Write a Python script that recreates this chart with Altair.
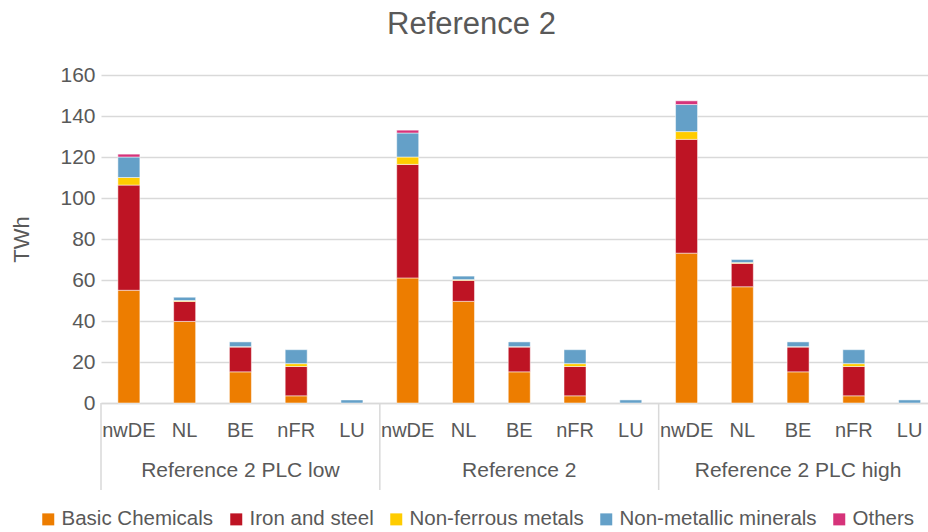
import altair as alt
import pandas as pd

# Scenario groups, regions and sectors
groups = ["Reference 2 PLC low", "Reference 2", "Reference 2 PLC high"]
countries = ["nwDE", "NL", "BE", "nFR", "LU"]
sectors = ["Basic Chemicals", "Iron and steel", "Non-ferrous metals",
           "Non-metallic minerals", "Others"]
sector_colors = ["#ED7D00", "#BE1424", "#FFCC00", "#64A0C8", "#D6337A"]

# TWh per sector, ordered group by group, region by region
basic_chemicals = [55.0, 39.8, 15.2, 3.5, 0.0,
                   61.0, 49.6, 15.2, 3.5, 0.0,
                   73.1, 56.7, 15.2, 3.5, 0.0]
iron_and_steel = [51.3, 9.7, 12.1, 14.3, 0.0,
                  55.4, 10.2, 12.1, 14.3, 0.0,
                  55.5, 11.4, 12.1, 14.3, 0.0]
non_ferrous = [3.7, 0.5, 0.2, 1.4, 0.0,
               3.6, 0.4, 0.2, 1.4, 0.0,
               3.8, 0.4, 0.2, 1.4, 0.0]
non_metallic = [10.0, 1.6, 2.3, 6.8, 1.5,
                11.7, 1.7, 2.3, 6.8, 1.5,
                13.2, 1.5, 2.3, 6.8, 1.5]
others = [1.4, 0.0, 0.0, 0.0, 0.0,
          1.4, 0.0, 0.0, 0.0, 0.0,
          1.8, 0.0, 0.0, 0.0, 0.0]
series = [basic_chemicals, iron_and_steel, non_ferrous, non_metallic, others]

y_ticks = [0, 20, 40, 60, 80, 100, 120, 140, 160]

TEXT = "#595959"
GRID = "#d9d9d9"
FONT = "Liberation Sans"

keys = [f"{g}|{c}" for g in groups for c in countries]

rows = []
for k, key in enumerate(keys):
    g, c = key.split("|")
    for si, (s, vals) in enumerate(zip(sectors, series)):
        if vals[k] > 0:
            rows.append({"key": key, "group": g, "country": c,
                         "sector": s, "order": si, "value": vals[k]})
df = pd.DataFrame(rows)

x_scale = alt.Scale(domain=keys, range=[0, 836.5], paddingInner=0, paddingOuter=0)
x_axis = alt.Axis(title=None, labelExpr="split(datum.value, '|')[1]",
                  labelAngle=0, ticks=False, domainColor=GRID, domainWidth=1.5,
                  labelFont=FONT, labelFontSize=20, labelColor=TEXT,
                  labelPadding=17, labelOverlap=False, labelBound=False)

bars = alt.Chart(df).mark_bar(width=22, stroke="white", strokeWidth=0.5).encode(
    x=alt.X("key:N", sort=keys, scale=x_scale, axis=x_axis),
    y=alt.Y("value:Q", stack="zero", scale=alt.Scale(domain=[0, 160], nice=False),
            axis=alt.Axis(values=y_ticks, title="TWh", titleFont=FONT,
                          titleFontSize=22, titleFontWeight="normal", titleColor=TEXT,
                          titleAngle=270, titleX=-80, titleY=164,
                          titleAlign="center", titleBaseline="middle",
                          labelFont=FONT, labelFontSize=21, labelColor=TEXT,
                          labelPadding=6, ticks=False, domain=False,
                          gridColor=GRID, gridWidth=1.5)),
    color=alt.Color("sector:N", scale=alt.Scale(domain=sectors, range=sector_colors),
                    legend=alt.Legend(orient="none", legendX=-63, legendY=434,
                                      direction="horizontal", title=None,
                                      symbolType="square", symbolSize=144,
                                      symbolStrokeWidth=0, labelFont=FONT,
                                      labelFontSize=20.5, labelColor=TEXT,
                                      labelLimit=0, columnPadding=12, labelOffset=3)),
    order=alt.Order("order:Q"),
)

# Vertical separators framing each scenario group below the axis
sep_df = pd.DataFrame({"key": [f"{g}|{countries[0]}" for g in groups]})
separators = alt.Chart(sep_df).mark_rule(color=GRID, strokeWidth=1.5).encode(
    x=alt.X("key:N", sort=keys, scale=x_scale, bandPosition=0, axis=x_axis),
    y=alt.value(328),
    y2=alt.value(415),
)

# Scenario names centred under each group
lab_df = pd.DataFrame({"key": [f"{g}|{countries[2]}" for g in groups], "group": groups})
group_labels = alt.Chart(lab_df).mark_text(
    font=FONT, fontSize=21, color=TEXT, baseline="middle", align="center"
).encode(
    x=alt.X("key:N", sort=keys, scale=x_scale, axis=x_axis),
    y=alt.value(396),
    text="group:N",
)

chart = alt.layer(bars, separators, group_labels).properties(
    width=827,
    height=328,
    autosize="none",
    padding={"left": 101, "top": 75, "right": 0, "bottom": 129},
    title=alt.TitleParams("Reference 2", font=FONT, fontSize=31, fontWeight="normal",
                          color=TEXT, anchor="middle", dx=-43, offset=23),
).configure_view(stroke=None)

chart.save("out.html", embed_options={"renderer": "svg", "actions": False})
